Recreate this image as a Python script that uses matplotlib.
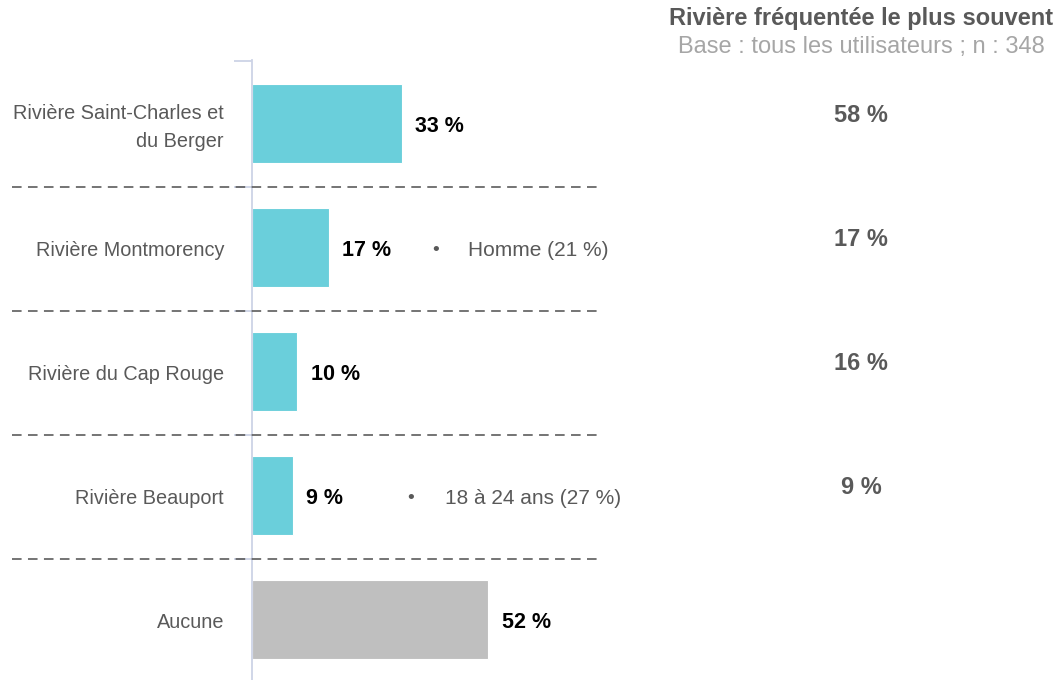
import matplotlib
matplotlib.use("Agg")
import matplotlib.pyplot as plt

plt.rcParams['font.family'] = ['Liberation Sans', 'DejaVu Sans']

categories = ["Rivière Saint-Charles et\ndu Berger", "Rivière Montmorency",
              "Rivière du Cap Rouge", "Rivière Beauport", "Aucune"]
values = [33, 17, 10, 9, 52]
bar_colors = ["#6ACFDB", "#6ACFDB", "#6ACFDB", "#6ACFDB", "#BFBFBF"]
notes = {1: "Homme (21 %)", 3: "18 à 24 ans (27 %)"}
right_title = "Rivière fréquentée le plus souvent"
right_subtitle = "Base : tous les utilisateurs ; n : 348"
right_values = [58, 17, 16, 9]

W, H = 1059, 680
fig = plt.figure(figsize=(W / 100, H / 100), dpi=100)
px_per_unit = 4.545
ax_left = 252
ax = fig.add_axes([ax_left / W, 0, (W - ax_left) / W, 620 / H])
ax.set_xlim(0, (W - ax_left) / px_per_unit)
ax.set_ylim(4.488, -0.512)

ypos = list(range(len(categories)))
ax.barh(ypos, values, height=0.637, color=bar_colors, edgecolor="white", linewidth=0.8)

tdy = 0.025  # small downward offset for text (~3px)
for y, v in zip(ypos, values):
    ax.text(v + 2.9, y + tdy, f"{v} %", ha="left", va="center",
            fontsize=15.5, fontweight="bold", color="black")

# category labels
lab_x = (224 - ax_left) / px_per_unit
for y, c in zip(ypos, categories):
    dy = 0.035 if "\n" in c else tdy
    ax.text(lab_x, y + dy, c, ha="right", va="center", fontsize=14.3,
            color="#595959", linespacing=1.62, clip_on=False)

# notes
note_x = {1: (40.3, 47.5), 3: (35.0, 42.5)}
for i, txt in notes.items():
    bx, tx = note_x[i]
    ax.text(bx, i + tdy, "•", ha="center", va="center", fontsize=14, color="#595959")
    ax.text(tx, i + tdy, txt, ha="left", va="center", fontsize=15, color="#595959")

# dashed separators
x0 = (12 - ax_left) / px_per_unit
x1 = (598 - ax_left) / px_per_unit
seps = [0.513, 1.513, 2.513, 3.513]
for b in seps:
    ax.plot([x0, x1], [b, b], color="#555555", lw=1.15, dashes=(6, 4),
            clip_on=False, zorder=3)

# spines / ticks
for s in ["top", "right", "bottom"]:
    ax.spines[s].set_visible(False)
ax.spines["left"].set_color("#CDD3E6")
ax.spines["left"].set_linewidth(1.3)
ax.set_xticks([])
ax.set_yticks([])
ax.set_yticks([-0.5] + seps, minor=True)
ax.tick_params(axis="y", which="minor", length=13, width=1.3, color="#CDD3E6", direction="out")

# right column
cx = 861 / W
fig.text(cx, 1 - 19 / H, right_title, ha="center", va="center", fontsize=17,
         fontweight="bold", color="#595959")
fig.text(cx, 1 - 47 / H, right_subtitle, ha="center", va="center", fontsize=17,
         color="#A6A6A6")
for i, v in enumerate(right_values):
    ycen = 123.5 + 124 * i - 8
    fig.text(cx, 1 - ycen / H, f"{v} %", ha="center", va="center", fontsize=17,
             fontweight="bold", color="#595959")

fig.savefig("out.png", dpi=100)
